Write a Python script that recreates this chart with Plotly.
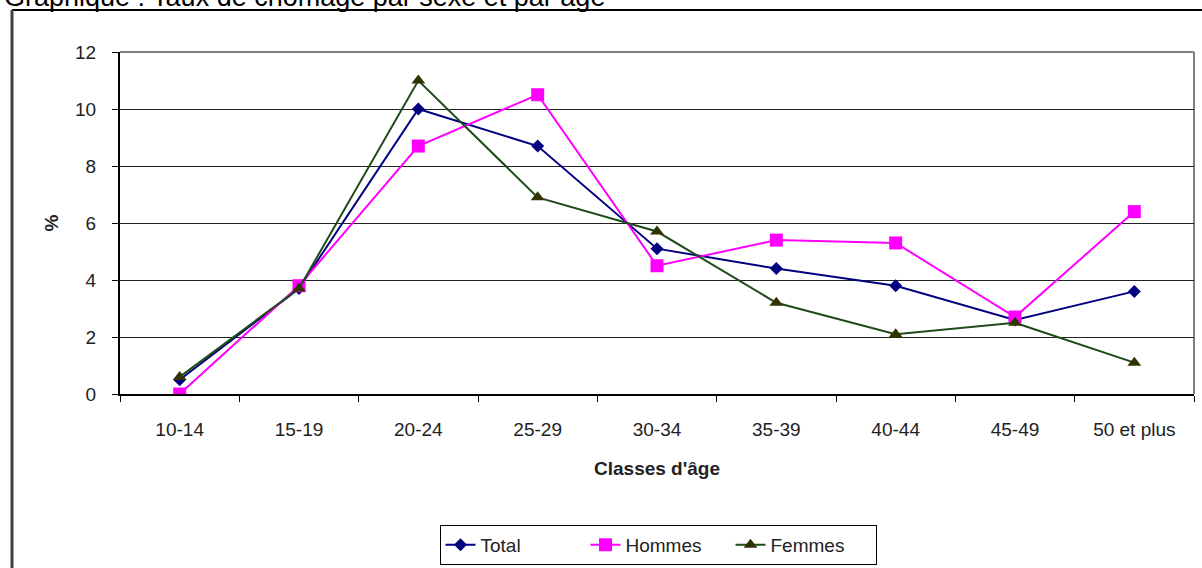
import plotly.graph_objects as go

# Age groups and unemployment rates (%)
age_groups = ["10-14", "15-19", "20-24", "25-29", "30-34", "35-39", "40-44", "45-49", "50 et plus"]
total = [0.5, 3.7, 10.0, 8.7, 5.1, 4.4, 3.8, 2.6, 3.6]
hommes = [0.0, 3.8, 8.7, 10.5, 4.5, 5.4, 5.3, 2.7, 6.4]
femmes = [0.6, 3.7, 11.0, 6.9, 5.7, 3.2, 2.1, 2.5, 1.1]

title_text = "Graphique : Taux de chômage par sexe et par âge"
x_title = "Classes d'âge"
y_title = "%"
y_ticks = [0, 2, 4, 6, 8, 10, 12]

FONT = "Arial, 'Liberation Sans', sans-serif"

# canvas geometry (pixels)
W, H = 1202, 568
ML, MR, MT, MB = 120, 8, 52, 174
PW = W - ML - MR
PH = H - MT - MB


def px_x(x):
    return (x - ML) / PW


def px_y(y):
    return (H - MB - y) / PH


fig = go.Figure()

fig.add_trace(go.Scatter(
    x=age_groups, y=total, name="Total", mode="lines+markers",
    line=dict(color="#000080", width=2),
    marker=dict(symbol="diamond", size=10, color="#000080"),
))
fig.add_trace(go.Scatter(
    x=age_groups, y=hommes, name="Hommes", mode="lines+markers",
    line=dict(color="#FF00FF", width=2),
    marker=dict(symbol="square", size=13, color="#FF00FF"),
))
fig.add_trace(go.Scatter(
    x=age_groups, y=femmes, name="Femmes", mode="lines+markers",
    line=dict(color="#1f4a1a", width=2),
    marker=dict(symbol="triangle-up", size=12, color="#333300"),
))

fig.update_layout(
    width=W, height=H,
    margin=dict(l=ML, r=MR, t=MT, b=MB, pad=0, autoexpand=False),
    paper_bgcolor="white", plot_bgcolor="white",
    font=dict(family=FONT, size=19, color="#222222"),
    showlegend=True,
    legend=dict(
        orientation="h", x=px_x(658), xanchor="center",
        y=px_y(525), yanchor="top",
        bordercolor="#000000", borderwidth=1, bgcolor="white",
        font=dict(family=FONT, size=19, color="#222222"),
        entrywidth=100,
    ),
    xaxis=dict(
        type="category", range=[-0.5, len(age_groups) - 0.5], automargin=False,
        tickson="boundaries", ticks="outside", ticklen=6, tickwidth=1, tickcolor="#000",
        showline=True, linecolor="#000", linewidth=2,
        showgrid=False, zeroline=False,
        ticklabelstandoff=17,
        tickfont=dict(family=FONT, size=19, color="#222222"),
        title=dict(text="<b>" + x_title + "</b>", standoff=23,
                   font=dict(family=FONT, size=19, color="#222222")),
    ),
    yaxis=dict(
        range=[0, 12], tickvals=y_ticks, automargin=False,
        ticks="outside", ticklen=6, tickwidth=1, tickcolor="#000",
        showline=True, linecolor="#000", linewidth=2,
        showgrid=True, gridcolor="#222222", gridwidth=1, zeroline=False,
        ticklabelstandoff=12,
        tickfont=dict(family=FONT, size=19, color="#222222"),
        title=dict(text="<b>" + y_title + "</b>", standoff=11,
                   font=dict(family=FONT, size=19, color="#222222")),
    ),
    shapes=[
        # grey plot-area border on top and right
        dict(type="line", xref="paper", yref="paper", x0=0, x1=1, y0=1, y1=1,
             line=dict(color="#808080", width=2), layer="between"),
        dict(type="line", xref="paper", yref="paper", x0=1, x1=1, y0=0, y1=1,
             line=dict(color="#808080", width=2), layer="between"),
        # outer chart frame
        dict(type="line", xref="paper", yref="paper", x0=px_x(12), x1=px_x(1202),
             y0=px_y(10), y1=px_y(10), line=dict(color="#000000", width=2)),
        dict(type="line", xref="paper", yref="paper", x0=px_x(12), x1=px_x(12),
             y0=px_y(10), y1=px_y(570), line=dict(color="#404040", width=3)),
    ],
    annotations=[
        dict(text=title_text, xref="paper", yref="paper",
             x=px_x(2), xanchor="left", y=px_y(14), yanchor="bottom",
             showarrow=False, font=dict(family=FONT, size=27, color="#000000")),
    ],
)

fig.write_html("out.html")
